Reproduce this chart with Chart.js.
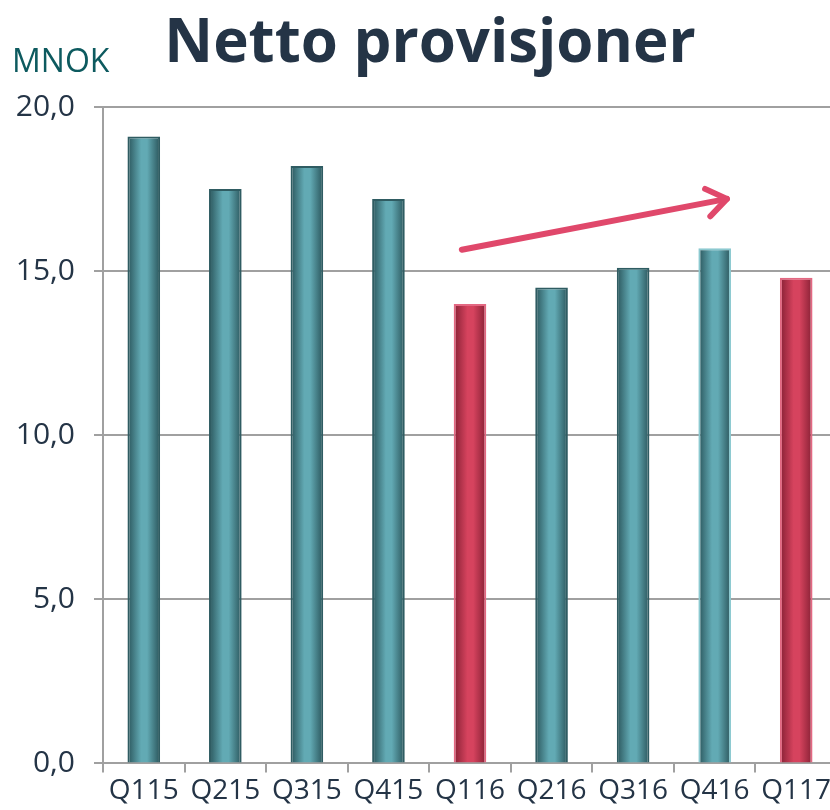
<!DOCTYPE html>
<html>
<head>
<meta charset="utf-8">
<script src="https://cdn.jsdelivr.net/npm/chart.js@4.4.1/dist/chart.umd.min.js"></script>
<style>
  html, body { margin: 0; padding: 0; background: #ffffff; overflow: hidden; }
  #wrap { position: relative; width: 837px; height: 810px; }
</style>
</head>
<body>
<div id="wrap"><canvas id="c"></canvas></div>
<script>
const categories = ['Q115', 'Q215', 'Q315', 'Q415', 'Q116', 'Q216', 'Q316', 'Q416', 'Q117'];
const values = [19.1, 17.5, 18.2, 17.2, 14.0, 14.5, 15.1, 15.7, 14.8];
const barKinds = ['teal', 'teal', 'teal', 'teal', 'red', 'teal', 'teal', 'tealLight', 'red'];
const yTicks = [0, 5, 10, 15, 20];
const titleText = 'Netto provisjoner';
const unitText = 'MNOK';
// trend arrow in data coordinates: [category index, value]
const arrowFrom = [3.9, 15.65];
const arrowTo = [7.15, 17.2];

const palette = {
  teal: { edge: '#2a555b', mid: '#62aab4', border: '#2f5c62' },
  tealLight: { edge: '#2a555b', mid: '#62aab4', border: '#8cc9d0' },
  red: { edge: '#862034', mid: '#d6435e', border: '#e36882' }
};

function barGradient(ctx) {
  const chart = ctx.chart;
  const kind = palette[barKinds[ctx.dataIndex]] || palette.teal;
  const xs = chart.scales.x;
  if (!xs || !chart.chartArea || ctx.dataIndex === undefined) return kind.mid;
  const cx = xs.getPixelForValue(ctx.dataIndex);
  const w = (xs.width / categories.length) * 0.4;
  const g = chart.ctx.createLinearGradient(cx - w / 2, 0, cx + w / 2, 0);
  g.addColorStop(0, kind.edge);
  g.addColorStop(0.42, kind.mid);
  g.addColorStop(0.6, kind.mid);
  g.addColorStop(1, kind.edge);
  return g;
}

const extras = {
  id: 'extras',
  afterDraw(chart) {
    const c = chart.ctx;
    const xs = chart.scales.x, ys = chart.scales.y;
    c.save();
    // title
    c.font = 'bold 60px "Open Sans", sans-serif';
    c.fillStyle = '#243446';
    c.textAlign = 'center';
    c.textBaseline = 'alphabetic';
    c.fillText(titleText, 430, 62);
    // unit label
    c.font = '32px "Open Sans", sans-serif';
    c.fillStyle = '#0d5a5f';
    c.textAlign = 'left';
    c.fillText(unitText, 12, 72);
    c.restore();
    // trend arrow
    const x1 = xs.getPixelForValue(arrowFrom[0]), y1 = ys.getPixelForValue(arrowFrom[1]);
    const x2 = xs.getPixelForValue(arrowTo[0]), y2 = ys.getPixelForValue(arrowTo[1]);
    const ang = Math.atan2(y2 - y1, x2 - x1);
    c.save();
    c.strokeStyle = '#e0486b';
    c.lineWidth = 6;
    c.lineCap = 'round';
    c.lineJoin = 'round';
    c.beginPath();
    c.moveTo(x1, y1);
    c.lineTo(x2, y2);
    c.stroke();
    const hl = 24, ha = 0.62;
    c.beginPath();
    c.moveTo(x2 - hl * Math.cos(ang - ha), y2 - hl * Math.sin(ang - ha));
    c.lineTo(x2, y2);
    c.lineTo(x2 - hl * Math.cos(ang + ha), y2 - hl * Math.sin(ang + ha));
    c.stroke();
    c.restore();
  }
};

new Chart(document.getElementById('c'), {
  type: 'bar',
  data: {
    labels: categories,
    datasets: [{
      data: values,
      backgroundColor: barGradient,
      borderColor: (ctx) => (palette[barKinds[ctx.dataIndex]] || palette.teal).border,
      borderWidth: 2,
      borderSkipped: 'bottom',
      barPercentage: 0.4,
      categoryPercentage: 1.0
    }]
  },
  options: {
    responsive: true,
    maintainAspectRatio: false,
    animation: false,
    layout: { padding: { left: 12, right: 0, top: 107, bottom: 0 } },
    plugins: {
      legend: { display: false },
      tooltip: { enabled: false },
      title: { display: false }
    },
    scales: {
      x: {
        offset: true,
        grid: { display: true, drawOnChartArea: false, drawTicks: true, tickLength: 9, color: '#a0a0a0', lineWidth: 2, offset: true },
        border: { display: true, color: '#a0a0a0', width: 2 },
        ticks: {
          color: '#243446',
          font: { family: '"Open Sans", sans-serif', size: 28 },
          padding: 2,
          maxRotation: 0,
          autoSkip: false
        }
      },
      y: {
        min: 0,
        max: 20,
        afterBuildTicks: (s) => { s.ticks = yTicks.map(v => ({ value: v })); },
        afterFit: (s) => { s.width = 91; },
        grid: { color: '#a0a0a0', lineWidth: 2, drawTicks: true, tickLength: 9 },
        border: { display: true, color: '#a0a0a0', width: 2 },
        ticks: {
          color: '#243446',
          font: { family: '"Open Sans", sans-serif', size: 30 },
          padding: 19,
          callback: (v) => Number(v).toFixed(1).replace('.', ',')
        }
      }
    }
  },
  plugins: [extras]
});
</script>
</body>
</html>
